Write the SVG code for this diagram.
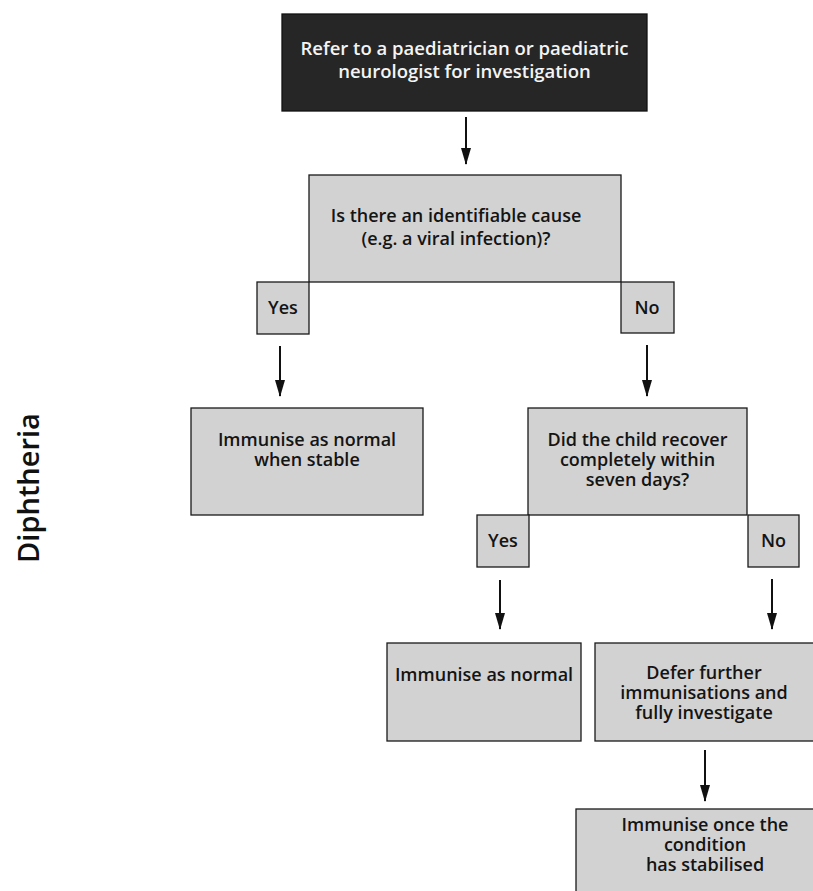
<svg xmlns="http://www.w3.org/2000/svg" width="813" height="891" viewBox="0 0 813 891">
<style>
.box{fill:#d2d2d2;stroke:#1a1a1a;stroke-width:1.3}
.dark{fill:#262626;stroke:#111;stroke-width:1.3}
.t{font-family:"Open Sans","Liberation Sans",sans-serif;font-weight:600;font-size:18px;fill:#141414;text-anchor:middle}
.tw{fill:#f4f4f4;font-size:18.5px}
.c{stroke:#111;stroke-width:2;fill:none;marker-end:url(#ah)}
</style>
<defs>
<marker id="ah" markerWidth="17" markerHeight="10" refX="16" refY="5" orient="auto" markerUnits="userSpaceOnUse" viewBox="0 0 17 10">
<path d="M0,0 L17,5 L0,10 Z" fill="#111"/>
</marker>
</defs>
<text x="39" y="488" transform="rotate(-90 39 488)" style="font-family:'Open Sans','Liberation Sans',sans-serif;font-weight:600;font-size:29px;fill:#111;text-anchor:middle">Diphtheria</text>
<g id="connectors">
<line class="c" x1="466" y1="117" x2="466" y2="164"/>
<line class="c" x1="280" y1="346" x2="280" y2="396"/>
<line class="c" x1="647" y1="345" x2="647" y2="396"/>
<line class="c" x1="500" y1="580" x2="500" y2="629"/>
<line class="c" x1="772" y1="579" x2="772" y2="629"/>
<line class="c" x1="705" y1="750" x2="705" y2="801"/>
</g>
<g id="refer">
<rect class="dark" x="282" y="14" width="365" height="97"/>
<text class="t tw" x="464.5" y="55">Refer to a paediatrician or paediatric</text>
<text class="t tw" x="464.5" y="78">neurologist for investigation</text>
</g>
<g id="q1">
<rect class="box" x="309" y="175" width="312" height="107"/>
<text class="t" x="456" y="222">Is there an identifiable cause</text>
<text class="t" x="456" y="245">(e.g. a viral infection)?</text>
</g>
<g id="yes1">
<rect class="box" x="257" y="282" width="52" height="52"/>
<text class="t" x="283" y="314">Yes</text>
</g>
<g id="no1">
<rect class="box" x="621" y="282" width="53" height="51"/>
<text class="t" x="647" y="314">No</text>
</g>
<g id="stable">
<rect class="box" x="191" y="408" width="232" height="107"/>
<text class="t" x="307" y="446">Immunise as normal</text>
<text class="t" x="307" y="466">when stable</text>
</g>
<g id="q2">
<rect class="box" x="528" y="408" width="219" height="107"/>
<text class="t" x="637.5" y="446">Did the child recover</text>
<text class="t" x="637.5" y="466">completely within</text>
<text class="t" x="637.5" y="486">seven days?</text>
</g>
<g id="yes2">
<rect class="box" x="477" y="515" width="52" height="52"/>
<text class="t" x="503" y="547">Yes</text>
</g>
<g id="no2">
<rect class="box" x="748" y="515" width="51" height="52"/>
<text class="t" x="773.5" y="547">No</text>
</g>
<g id="normal">
<rect class="box" x="387" y="643" width="194" height="98"/>
<text class="t" x="484" y="681">Immunise as normal</text>
</g>
<g id="defer">
<rect class="box" x="595" y="643" width="220" height="98"/>
<text class="t" x="704" y="679">Defer further</text>
<text class="t" x="704" y="699">immunisations and</text>
<text class="t" x="704" y="719">fully investigate</text>
</g>
<g id="stabilised">
<rect class="box" x="576" y="809" width="240" height="90"/>
<text class="t" x="705" y="831">Immunise once the</text>
<text class="t" x="705" y="851">condition</text>
<text class="t" x="705" y="871">has stabilised</text>
</g>
</svg>
